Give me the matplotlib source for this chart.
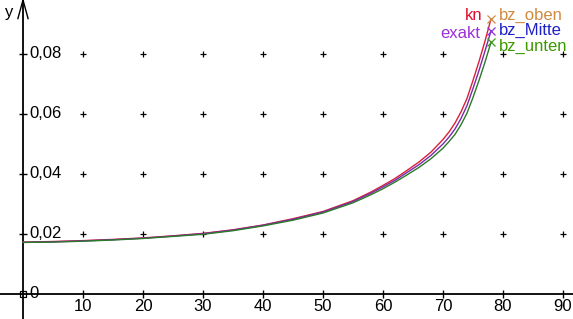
import matplotlib
matplotlib.use("Agg")
import matplotlib.pyplot as plt

plt.rcParams['font.family'] = ['Liberation Sans', 'DejaVu Sans']

x = [0, 5, 10, 15, 20, 25, 30, 35, 40, 45, 50, 55, 58, 60, 62, 64, 66, 68, 70,
     71, 72, 73, 74, 75, 76, 77, 78]
y_kn = [0.0173, 0.0175, 0.0178, 0.0182, 0.0187, 0.0194, 0.0202, 0.0214, 0.0230,
        0.0251, 0.0275, 0.0311, 0.0340, 0.0362, 0.0385, 0.0412, 0.0440, 0.0473,
        0.0515, 0.0540, 0.0570, 0.0607, 0.0652, 0.0712, 0.0775, 0.0843, 0.0917]
y_exakt = [0.0172, 0.0174, 0.0177, 0.0181, 0.0186, 0.0193, 0.0201, 0.0213, 0.0229,
           0.0249, 0.0273, 0.0308, 0.0336, 0.0357, 0.0379, 0.0405, 0.0431, 0.0462,
           0.0500, 0.0523, 0.0550, 0.0585, 0.0628, 0.0685, 0.0745, 0.0810, 0.0877]
y_unten = [0.0172, 0.0173, 0.0176, 0.0180, 0.0185, 0.0192, 0.0199, 0.0211, 0.0227,
           0.0246, 0.0270, 0.0304, 0.0331, 0.0351, 0.0373, 0.0397, 0.0422, 0.0451,
           0.0486, 0.0508, 0.0532, 0.0564, 0.0603, 0.0655, 0.0712, 0.0773, 0.0839]

x_ticks = [10, 20, 30, 40, 50, 60, 70, 80, 90]
x_tick_labels = ["10", "20", "30", "40", "50", "60", "70", "80", "90"]
y_ticks = [0.02, 0.04, 0.06, 0.08]
y_tick_labels = ["0,02", "0,04", "0,06", "0,08"]

end_x = 78
end_oben, end_mitte, end_unten = 0.0917, 0.0877, 0.0839

W, H = 573, 319
fig = plt.figure(figsize=(W / 100, H / 100), dpi=100)
ax = fig.add_axes([0, 0, 1, 1])
x0px, y0px = 23, 294
sx, sy = 6.0, 3000.0
ax.set_xlim(-x0px / sx, (W - x0px) / sx)
ax.set_ylim(-(H - y0px) / sy, y0px / sy)
ax.axis('off')

# grid crosses
for gx in x_ticks:
    for gy in y_ticks:
        ax.plot(gx, gy, marker='+', color='black', markersize=5, mew=0.9)

# axes
ax.axhline(0, color='black', lw=1.3)
ax.axvline(0, color='black', lw=1.3)
# arrow on y-axis
ax.plot([-0.85, 0, 0.85], [0.0918, y0px / sy, 0.0918], color='black', lw=1.0)
ax.text(-3.0, 0.094, "y", fontsize=12, ha='left', va='center')

# ticks and labels
for t, lab in zip(x_ticks, x_tick_labels):
    ax.plot(t, 0, marker='|', color='black', markersize=6, mew=1.0)
    ax.text(t, -0.0042, lab, fontsize=12, ha='center', va='center')
for t, lab in zip(y_ticks, y_tick_labels):
    ax.plot(0, t, marker='_', color='black', markersize=6, mew=1.0)
    ax.text(1.0, t, lab, fontsize=12, ha='left', va='center')
ax.text(1.0, 0, "0", fontsize=12, ha='left', va='center')
ax.plot(0, 0, marker='s', mfc='none', mec='black', markersize=5, mew=0.9)

# curves
ax.plot(x, y_kn, color='#d8203c', lw=1.0)
ax.plot(x, y_exakt, color='#7a2aa8', lw=1.0)
ax.plot(x, y_unten, color='#2a7a2a', lw=1.0)

# end markers
ax.plot(end_x, end_oben, marker='x', color='#d08a40', markersize=6, mew=0.9)
ax.plot(end_x, end_mitte, marker='x', color='#8a30d8', markersize=6, mew=0.9)
ax.plot(end_x, end_unten, marker='x', color='#3a9a1a', markersize=6, mew=0.9)

# labels
ax.text(76.5, 0.0930, "kn", color='#e01030', fontsize=12, ha='right', va='center')
ax.text(79.3, 0.0930, "bz_oben", color='#d08a40', fontsize=12, ha='left', va='center')
ax.text(76.2, 0.0870, "exakt", color='#9a30d8', fontsize=12, ha='right', va='center')
ax.text(79.3, 0.0877, "bz_Mitte", color='#2020c8', fontsize=12, ha='left', va='center')
ax.text(79.3, 0.0826, "bz_unten", color='#3a9a00', fontsize=12, ha='left', va='center')

fig.savefig("out.png", dpi=100)
